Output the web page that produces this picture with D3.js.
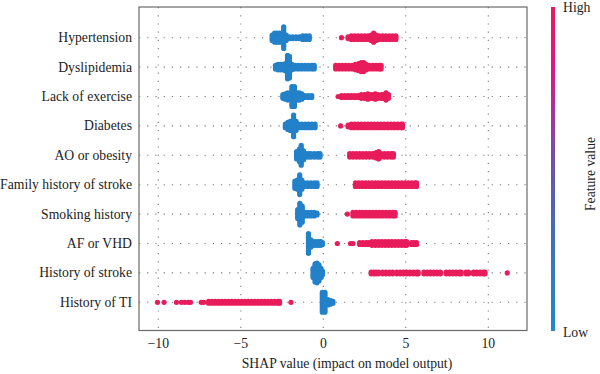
<!DOCTYPE html>
<html>
<head>
<meta charset="utf-8">
<script src="https://cdn.jsdelivr.net/npm/d3@7"></script>
<style>
  body { margin: 0; background: #fff; }
</style>
</head>
<body>
<div id="chart"></div>
<script>

// features, top to bottom
var features = ["Hypertension", "Dyslipidemia", "Lack of exercise", "Diabetes", "AO or obesity",
    "Family history of stroke", "Smoking history", "AF or VHD", "History of stroke", "History of TI"];

var xTicks = [-10, -5, 0, 5, 10];

// [SHAP value, number of stacked points], low feature value (blue)
var lowHypertension = [[-3.1, 4], [-2.95, 6], [-2.8, 6], [-2.65, 6], [-2.4, 13], [-2.25, 4], [-2.05, 2], [-1.85, 2],
    [-1.65, 2], [-1.45, 2], [-1.25, 3], [-1.05, 3], [-0.85, 3]];
var lowDyslipidemia = [[-2.9, 3], [-2.75, 4], [-2.6, 4], [-2.45, 4], [-2.3, 5], [-2.17, 14], [-2.05, 13], [-1.9, 4],
    [-1.7, 3], [-1.5, 3], [-1.3, 3], [-1.1, 3], [-0.9, 3], [-0.7, 3], [-0.55, 3]];
var lowExercise = [[-2.45, 3], [-2.3, 4], [-2.15, 5], [-1.9, 12], [-1.75, 12], [-1.6, 5], [-1.45, 5], [-1.3, 4],
    [-1.1, 2], [-0.9, 2], [-0.7, 2]];
var lowDiabetes = [[-2.3, 3], [-2.15, 5], [-2.0, 6], [-1.8, 13], [-1.65, 6], [-1.5, 3], [-1.3, 3], [-1.1, 3],
    [-0.9, 3], [-0.7, 3], [-0.5, 3]];
var lowObesity = [[-1.62, 5], [-1.45, 8], [-1.34, 12], [-1.2, 6], [-1.05, 3], [-0.9, 3], [-0.75, 3], [-0.55, 3],
    [-0.35, 3], [-0.2, 3]];
var lowFamily = [[-1.72, 5], [-1.57, 6], [-1.43, 12], [-1.3, 6], [-1.15, 3], [-0.95, 3], [-0.75, 3], [-0.55, 3],
    [-0.38, 3]];
var lowSmoking = [[-1.55, 6], [-1.42, 13], [-1.28, 10], [-1.12, 3], [-0.95, 3], [-0.75, 3], [-0.55, 3], [-0.38, 2]];
var lowAF = [[-0.9, 12], [-0.75, 5], [-0.6, 3], [-0.45, 3], [-0.3, 3], [-0.15, 3], [-0.05, 2]];
var lowStroke = [[-0.62, 6], [-0.5, 11], [-0.38, 12], [-0.26, 10], [-0.14, 6], [-0.05, 3]];
var lowTI = [[-0.06, 12], [0.1, 12], [0.28, 4], [0.45, 3], [0.58, 2]];

// high feature value (red)
var highHypertension = [[1.1, 1], [1.5, 2], [1.7, 3], [1.9, 3], [2.1, 3], [2.3, 3], [2.5, 3], [2.7, 3], [2.9, 4],
    [3.05, 6], [3.2, 4], [3.4, 3], [3.6, 3], [3.8, 3], [4.0, 3], [4.2, 3], [4.4, 3]];
var highDyslipidemia = [[0.75, 3], [0.95, 3], [1.15, 3], [1.35, 3], [1.55, 3], [1.75, 3], [1.95, 4], [2.15, 5],
    [2.3, 6], [2.45, 6], [2.6, 4], [2.8, 3], [3.0, 3], [3.2, 3], [3.4, 3], [3.5, 3]];
var highExercise = [[0.9, 1], [1.1, 2], [1.3, 2], [1.5, 2], [1.7, 2], [1.9, 2], [2.1, 2], [2.3, 3], [2.5, 3],
    [2.7, 4], [2.85, 3], [3.0, 3], [3.15, 4], [3.3, 3], [3.5, 3], [3.65, 3], [3.8, 5], [3.95, 3]];
var highDiabetes = [[1.05, 1], [1.5, 2], [1.7, 3], [1.9, 3], [2.1, 3], [2.3, 3], [2.5, 3], [2.7, 3], [2.9, 3],
    [3.1, 3], [3.3, 3], [3.5, 3], [3.7, 3], [3.9, 3], [4.1, 3], [4.3, 3], [4.5, 3], [4.7, 3], [4.8, 3]];
var highObesity = [[1.6, 3], [1.8, 3], [2.0, 3], [2.2, 3], [2.4, 3], [2.6, 3], [2.8, 3], [3.0, 3], [3.2, 4],
    [3.35, 5], [3.5, 3], [3.7, 3], [3.9, 3], [4.1, 3], [4.25, 3]];
var highFamily = [[1.95, 3], [2.15, 3], [2.35, 3], [2.55, 3], [2.75, 3], [2.95, 3], [3.15, 3], [3.35, 3], [3.55, 3],
    [3.75, 3], [3.95, 3], [4.15, 3], [4.35, 3], [4.55, 3], [4.75, 3], [4.95, 3], [5.15, 3], [5.35, 3], [5.55, 3],
    [5.65, 3]];
var highSmoking = [[1.46, 1], [1.8, 3], [2.0, 3], [2.2, 3], [2.4, 3], [2.6, 3], [2.8, 3], [3.0, 3], [3.2, 3],
    [3.4, 3], [3.6, 3], [3.8, 3], [4.0, 3], [4.2, 3], [4.35, 3]];
var highAF = [[0.85, 1], [1.65, 1], [1.8, 1], [2.2, 2], [2.4, 2], [2.6, 2], [2.75, 2], [2.95, 3], [3.15, 3],
    [3.35, 3], [3.55, 3], [3.75, 3], [3.95, 3], [4.15, 3], [4.35, 3], [4.55, 3], [4.75, 3], [4.95, 3], [5.05, 3],
    [5.35, 2], [5.5, 2], [5.65, 2]];
var highStroke = [[2.9, 2], [3.05, 2], [3.2, 2], [3.35, 2], [3.6, 2], [3.8, 2], [4.0, 2], [4.2, 2], [4.45, 2],
    [4.65, 2], [4.85, 2], [5.05, 2], [5.25, 2], [5.45, 2], [5.65, 2], [5.75, 2], [6.1, 2], [6.3, 2], [6.5, 2],
    [6.7, 2], [6.9, 2], [7.1, 2], [7.45, 2], [7.65, 2], [7.85, 2], [8.05, 2], [8.25, 2], [8.35, 2], [8.65, 2],
    [8.8, 2], [9.1, 2], [9.3, 2], [9.5, 2], [9.7, 2], [9.8, 2], [11.15, 1]];
var highTI = [[-10.05, 1], [-9.65, 1], [-8.9, 1], [-8.6, 1], [-8.4, 1], [-8.2, 1], [-8.05, 1], [-7.4, 1], [-7.25, 1],
    [-6.95, 2], [-6.75, 2], [-6.55, 2], [-6.35, 2], [-6.15, 2], [-5.95, 2], [-5.75, 2], [-5.55, 2], [-5.35, 2],
    [-5.15, 2], [-4.95, 2], [-4.75, 2], [-4.55, 2], [-4.35, 2], [-4.15, 2], [-3.95, 2], [-3.75, 2], [-3.55, 2],
    [-3.35, 2], [-3.15, 2], [-2.95, 2], [-2.75, 2], [-2.65, 2], [-1.96, 1]];

var lowValues = [lowHypertension, lowDyslipidemia, lowExercise, lowDiabetes, lowObesity,
    lowFamily, lowSmoking, lowAF, lowStroke, lowTI];
var highValues = [highHypertension, highDyslipidemia, highExercise, highDiabetes, highObesity,
    highFamily, highSmoking, highAF, highStroke, highTI];

var blue = "#2381c9", red = "#e81c5b";
var serif = "'Liberation Serif', 'DejaVu Serif', 'Times New Roman', Times, serif";

var width = 600, height = 374;
var box = { left: 139, right: 527, top: 7, bottom: 330.5 };

var svg = d3.select("#chart")
    .append("svg")
    .attr("width", width)
    .attr("height", height)
    .attr("font-family", serif)
    .style("font-family", serif);

// scales
var x = d3.scaleLinear().domain([-10, 10]).range([158.3, 488.3]);
var y = d3.scalePoint().domain(features).range([37.7, 302.3]);

// dotted grid
svg.append("g")
    .selectAll("line")
    .data(xTicks)
    .join("line")
    .attr("x1", d => x(d)).attr("x2", d => x(d))
    .attr("y1", box.top).attr("y2", box.bottom)
    .attr("stroke", "#7a7a7a")
    .attr("stroke-width", 1.1)
    .attr("stroke-dasharray", "1.2,7");

svg.append("g")
    .selectAll("line")
    .data(features)
    .join("line")
    .attr("x1", box.left).attr("x2", box.right)
    .attr("y1", d => y(d)).attr("y2", d => y(d))
    .attr("stroke", "#7a7a7a")
    .attr("stroke-width", 1.1)
    .attr("stroke-dasharray", "1.2,7");

// points: stack each column around the row line
function stack(cols, feature, color) {
    var pts = [];
    cols.forEach(function (c) {
        for (var i = 0; i < c[1]; i++) {
            pts.push({ v: c[0], dy: (i - (c[1] - 1) / 2) * 1.8, f: feature, color: color });
        }
    });
    return pts;
}

var points = [];
features.forEach(function (f, i) {
    points = points.concat(stack(lowValues[i], f, blue), stack(highValues[i], f, red));
});

svg.append("g")
    .selectAll("circle")
    .data(points)
    .join("circle")
    .attr("cx", d => x(d.v))
    .attr("cy", d => y(d.f) + d.dy)
    .attr("r", 2.6)
    .attr("fill", d => d.color);

// frame
svg.append("rect")
    .attr("x", box.left).attr("y", box.top)
    .attr("width", box.right - box.left).attr("height", box.bottom - box.top)
    .attr("fill", "none")
    .attr("stroke", "#6a6a6a")
    .attr("stroke-width", 1.2);

// feature labels
svg.append("g")
    .selectAll("text")
    .data(features)
    .join("text")
    .attr("x", 132)
    .attr("y", d => y(d) + 4.5)
    .attr("text-anchor", "end")
    .attr("fill", "#222")
    .style("font-family", serif)
    .style("font-size", "13.7px")
    .text(d => d);

// x tick labels
svg.append("g")
    .selectAll("text")
    .data(xTicks)
    .join("text")
    .attr("x", d => x(d))
    .attr("y", 348)
    .attr("text-anchor", "middle")
    .attr("fill", "#222")
    .style("font-family", serif)
    .style("font-size", "13.7px")
    .text(d => d3.format("d")(d));

svg.append("text")
    .attr("x", 347)
    .attr("y", 368)
    .attr("text-anchor", "middle")
    .attr("fill", "#222")
    .style("font-family", serif)
    .style("font-size", "13.7px")
    .text("SHAP value (impact on model output)");

// colour bar
var grad = svg.append("defs").append("linearGradient")
    .attr("id", "fv")
    .attr("x1", 0).attr("y1", 1).attr("x2", 0).attr("y2", 0);
grad.selectAll("stop")
    .data([[0, "#1e8ad0"], [0.3, "#3f6fb8"], [0.55, "#7a4ea2"], [0.82, "#e2138a"], [1, "#e81b58"]])
    .join("stop")
    .attr("offset", d => d[0])
    .attr("stop-color", d => d[1]);

svg.append("rect")
    .attr("x", 551).attr("y", 7)
    .attr("width", 4).attr("height", 324)
    .attr("fill", "url(#fv)");

svg.append("text")
    .attr("x", 563).attr("y", 12)
    .attr("fill", "#222")
    .style("font-family", serif)
    .style("font-size", "13.7px")
    .text("High");

svg.append("text")
    .attr("x", 563).attr("y", 337)
    .attr("fill", "#222")
    .style("font-family", serif)
    .style("font-size", "13.7px")
    .text("Low");

svg.append("text")
    .attr("transform", "translate(595,174) rotate(-90)")
    .attr("text-anchor", "middle")
    .attr("fill", "#222")
    .style("font-family", serif)
    .style("font-size", "13.7px")
    .text("Feature value");

</script>
</body>
</html>
